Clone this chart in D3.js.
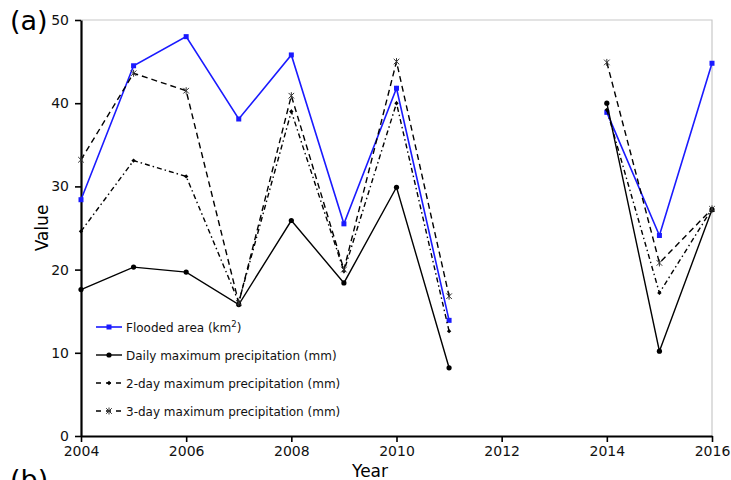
<!DOCTYPE html>
<html>
<head>
<meta charset="utf-8">
<script src="https://cdn.jsdelivr.net/npm/d3@7"></script>
<style>
  body { margin: 0; background: #fff; }
  svg { display: block; font-family: "DejaVu Sans", Verdana, sans-serif; }
</style>
</head>
<body>
<div id="container"></div>
<script>
const WIDTH = 731;
const HEIGHT = 480;
const LEFT = 81, RIGHT = 712, TOP = 20, BOTTOM = 436;

// data; null = no value that year
var years = [2004, 2005, 2006, 2007, 2008, 2009, 2010, 2011, 2012, 2013, 2014, 2015, 2016];
var flooded = [28.4, 44.5, 48.0, 38.1, 45.8, 25.5, 41.8, 13.9, null, null, 38.9, 24.1, 44.8];
var daily = [17.6, 20.3, 19.7, 15.8, 25.9, 18.4, 29.9, 8.2, null, null, 40.0, 10.2, 27.2];
var twoDay = [24.6, 33.1, 31.2, 16.1, 39.0, 19.8, 40.0, 12.6, null, null, 39.2, 17.2, 27.3];
var threeDay = [33.2, 43.6, 41.5, 16.0, 40.9, 20.0, 45.0, 16.8, null, null, 44.9, 20.8, 27.3];
var xTicks = [2004, 2006, 2008, 2010, 2012, 2014, 2016];
var yTicks = [0, 10, 20, 30, 40, 50];

var series = [
    {name: "Flooded area (km", sup: "2", values: flooded, color: "#1a1aff", dash: null, marker: "square", width: 1.6},
    {name: "Daily maximum precipitation (mm)", values: daily, color: "#000", dash: null, marker: "circle", width: 1.4},
    {name: "2-day maximum precipitation (mm)", values: twoDay, color: "#000", dash: "5,3,1.5,3", marker: "dot", width: 1.4},
    {name: "3-day maximum precipitation (mm)", values: threeDay, color: "#000", dash: "6,4", marker: "star", width: 1.4}
];

var translate = function (x, y) {
    return "translate(" + x + "," + y + ")";
};

var drawMarker = function (g, type, x, y, color) {
    if (type === "square") {
        g.append("rect").attr("x", x - 2.5).attr("y", y - 2.5)
            .attr("width", 5).attr("height", 5).attr("fill", color);
    } else if (type === "circle") {
        g.append("circle").attr("cx", x).attr("cy", y).attr("r", 2.6).attr("fill", color);
    } else if (type === "dot") {
        g.append("path").attr("d", "M" + x + "," + (y - 2.2) + "L" + (x + 2.2) + "," + y +
            "L" + x + "," + (y + 2.2) + "L" + (x - 2.2) + "," + y + "Z").attr("fill", color);
    } else if (type === "star") {
        g.append("path")
            .attr("d", "M" + (x - 2.8) + "," + (y - 2.8) + "L" + (x + 2.8) + "," + (y + 2.8) +
                "M" + (x + 2.8) + "," + (y - 2.8) + "L" + (x - 2.8) + "," + (y + 2.8) +
                "M" + x + "," + (y - 3.5) + "L" + x + "," + (y + 3.5))
            .attr("stroke", "#333").attr("stroke-width", 1).attr("fill", "none");
    }
};

var createChart = function () {
    var svg = d3.select("#container").append("svg")
        .attr("width", WIDTH).attr("height", HEIGHT);

    var xScale = d3.scaleLinear().domain([2004, 2016]).range([LEFT, RIGHT]);
    var yScale = d3.scaleLinear().domain([0, 50]).range([BOTTOM, TOP]);

    // plot border (top and right, light grey)
    svg.append("path")
        .attr("d", "M" + LEFT + "," + TOP + "H" + RIGHT + "V" + BOTTOM)
        .attr("stroke", "#c8c8c8").attr("stroke-width", 1.2).attr("fill", "none");

    var xAxis = d3.axisBottom(xScale).tickValues(xTicks).tickFormat(d3.format("d"))
        .tickSizeInner(6).tickSizeOuter(0).tickPadding(4);
    var yAxis = d3.axisLeft(yScale).tickValues(yTicks)
        .tickSizeInner(6).tickSizeOuter(0).tickPadding(6);

    var gx = svg.append("g").attr("transform", translate(0, BOTTOM)).call(xAxis);
    var gy = svg.append("g").attr("transform", translate(LEFT, 0)).call(yAxis);
    [gx, gy].forEach(function (g) {
        g.select(".domain").attr("stroke-width", 2.2);
        g.selectAll(".tick line").attr("stroke-width", 1.6);
        g.selectAll(".tick text").attr("font-size", 14).attr("fill", "#111")
            .attr("font-family", "DejaVu Sans, Verdana, sans-serif");
    });

    svg.append("text").attr("x", 370).attr("y", 477).attr("text-anchor", "middle")
        .attr("font-size", 17).text("Year");
    svg.append("text").attr("transform", translate(48, 228) + " rotate(-90)")
        .attr("text-anchor", "middle").attr("font-size", 17).text("Value");
    svg.append("text").attr("x", 10).attr("y", 30).attr("font-size", 27).text("(a)");
    svg.append("text").attr("x", 10).attr("y", 489).attr("font-size", 27).text("(b)");

    var g = svg.append("g");
    series.forEach(function (s) {
        var pts = years.map(function (yr, i) { return {x: yr, y: s.values[i]}; });
        var line = d3.line()
            .defined(function (d) { return d.y !== null; })
            .x(function (d) { return xScale(d.x); })
            .y(function (d) { return yScale(d.y); });
        g.append("path").attr("d", line(pts))
            .attr("stroke", s.color).attr("stroke-width", s.width)
            .attr("stroke-dasharray", s.dash).attr("fill", "none");
        pts.filter(function (d) { return d.y !== null; }).forEach(function (d) {
            drawMarker(g, s.marker, xScale(d.x), yScale(d.y), s.color);
        });
    });

    // legend
    var lg = svg.append("g").attr("transform", translate(96, 327));
    series.forEach(function (s, i) {
        var row = lg.append("g").attr("transform", translate(0, i * 28));
        row.append("line").attr("x1", 0).attr("x2", 26).attr("y1", 0).attr("y2", 0)
            .attr("stroke", s.color).attr("stroke-width", s.width)
            .attr("stroke-dasharray", s.dash ? "5,5" : null);
        drawMarker(row, s.marker, 13, 0, s.color);
        var t = row.append("text").attr("x", 30).attr("y", 4.5)
            .attr("font-size", 12).attr("fill", "#111").text(s.name);
        if (s.sup) {
            t.append("tspan").attr("dy", -5).attr("font-size", 8.5).text(s.sup);
            t.append("tspan").attr("dy", 5).text(")");
        }
    });
};

window.onload = createChart;
</script>
</body>
</html>
